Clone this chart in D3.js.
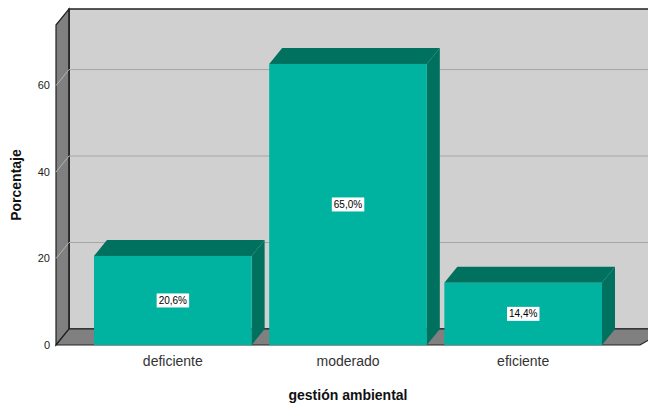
<!DOCTYPE html>
<html><head><meta charset="utf-8">
<script src="https://cdn.jsdelivr.net/npm/d3@7"></script>
<style>body{margin:0;background:#fff}svg{display:block;font-family:Arial,"Liberation Sans",sans-serif}</style>
</head><body>
<svg id="c" width="648" height="405"></svg>
<script>
const categories = ["deficiente", "moderado", "eficiente"];
const values = [20.6, 65.0, 14.4];
const valueLabels = ["20,6%", "65,0%", "14,4%"];
const yTicks = [0, 20, 40, 60];
const xTitle = "gestión ambiental";
const yTitle = "Porcentaje";

(function () {
const svg = d3.select("#c");
const DX = 13, DY = -16;
const pLeft = 56, pRight = 635, pBottom = 345, pTop = 25;
const y = d3.scaleLinear().domain([0, 74]).range([pBottom, pTop]);
const x = d3.scaleBand().domain(categories).range([94, 602]).paddingInner(0.1).paddingOuter(0);

const wallGray = "#808080", backGray = "#d0d0d0";
// back wall
svg.append("rect").attr("x", pLeft + DX).attr("y", pTop + DY).attr("width", pRight - pLeft + 20).attr("height", pBottom - pTop)
  .attr("fill", backGray).attr("stroke", "#222").attr("stroke-width", 1.5);
// left wall
svg.append("polygon").attr("points", [[pLeft, pTop], [pLeft + DX, pTop + DY], [pLeft + DX, pBottom + DY], [pLeft, pBottom]].join(" "))
  .attr("fill", wallGray).attr("stroke", "#222").attr("stroke-width", 1.2);
// floor
svg.append("polygon").attr("points", [[pLeft, pBottom], [pLeft + DX, pBottom + DY], [pRight + DX + 20, pBottom + DY], [pRight + 5, pBottom]].join(" "))
  .attr("fill", wallGray).attr("stroke", "#222").attr("stroke-width", 1.2);
svg.append("line").attr("x1", pLeft + DX).attr("x2", pLeft + DX).attr("y1", pTop + DY).attr("y2", pBottom + DY).attr("stroke", "#222").attr("stroke-width", 1.2);

// gridlines
yTicks.filter(t => t > 0).forEach(t => {
  svg.append("line").attr("x1", pLeft + DX).attr("x2", 648).attr("y1", y(t) + DY).attr("y2", y(t) + DY)
    .attr("stroke", "#a6a6a6").attr("stroke-width", 1);
  svg.append("line").attr("x1", pLeft).attr("x2", pLeft + DX).attr("y1", y(t)).attr("y2", y(t) + DY)
    .attr("stroke", "#b4b4b4").attr("stroke-width", 1);
});

// y tick labels
svg.append("g").selectAll("text").data(yTicks).join("text")
  .attr("x", 50).attr("y", d => y(d)).attr("dy", "0.35em").attr("text-anchor", "end")
  .attr("font-size", 11).attr("fill", "#222").text(d => d);

// bars
const front = "#00b2a0", dark = "#00705f";
const g = svg.append("g");
categories.forEach((c, i) => {
  const x0 = x(c), x1 = x(c) + x.bandwidth(), yt = y(values[i]);
  g.append("polygon").attr("points", [[x0, yt], [x0 + DX, yt + DY], [x1 + DX, yt + DY], [x1, yt]].join(" ")).attr("fill", dark);
  g.append("polygon").attr("points", [[x1, yt], [x1 + DX, yt + DY], [x1 + DX, pBottom + DY], [x1, pBottom]].join(" ")).attr("fill", dark);
  g.append("rect").attr("x", x0).attr("y", yt).attr("width", x.bandwidth()).attr("height", pBottom - yt).attr("fill", front);
  const cx = x0 + x.bandwidth() / 2, cy = (yt + pBottom) / 2;
  const t = g.append("text").attr("x", cx).attr("y", cy).attr("dy", "0.35em").attr("text-anchor", "middle")
    .attr("font-size", 10).attr("fill", "#000").text(valueLabels[i]);
  const bb = t.node().getBBox();
  g.insert("rect", () => t.node()).attr("x", bb.x - 2).attr("y", cy - 7).attr("width", bb.width + 4).attr("height", 14).attr("fill", "#fff");
});

// x labels
svg.append("g").selectAll("text").data(categories).join("text")
  .attr("x", d => x(d) + x.bandwidth() / 2).attr("y", 361).attr("dy", "0.35em").attr("text-anchor", "middle")
  .attr("font-size", 14).attr("fill", "#333").text(d => d);

svg.append("text").attr("x", 348).attr("y", 395).attr("dy", "0.35em").attr("text-anchor", "middle")
  .attr("font-size", 14).attr("font-weight", "bold").attr("fill", "#111").text(xTitle);
svg.append("text").attr("transform", "translate(16,185) rotate(-90)").attr("dy", "0.35em").attr("text-anchor", "middle")
  .attr("font-size", 14).attr("font-weight", "bold").attr("fill", "#111").text(yTitle);
})();
</script>
</body></html>
